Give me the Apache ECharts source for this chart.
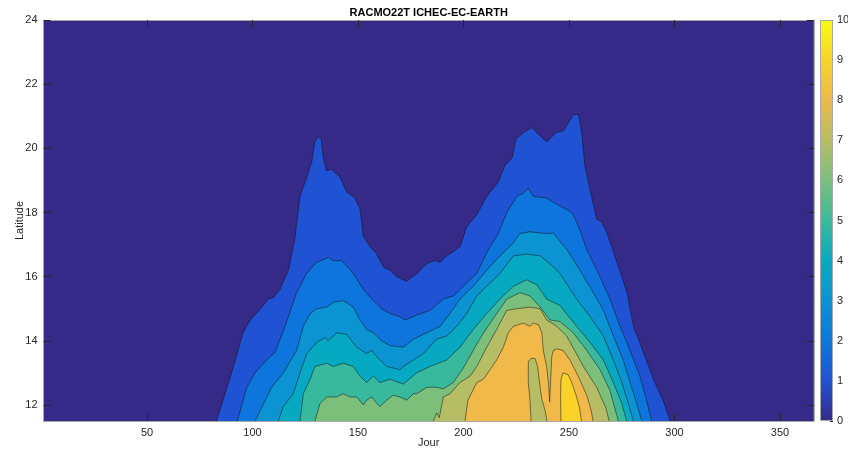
<!DOCTYPE html>
<html>
<head>
<meta charset="utf-8">
<script src="https://cdn.jsdelivr.net/npm/echarts@6/dist/echarts.min.js"></script>
<style>
html, body { margin: 0; padding: 0; background: #ffffff; }
#chart { width: 848px; height: 454px; }
</style>
</head>
<body>
<div id="chart"></div>
<script>
// Filled contours of the index (Jour x Latitude). Each array traces the
// upper edge of the region where the value exceeds the given level,
// as [day, latitude] pairs; the regions are filled down to the lower axis.
const contour1 = [[83,11.5],[91,13.2],[95.5,14.25],[99,14.65],[104.5,15.05],[107.5,15.3],[110,15.35],[113,15.6],[117,16.2],[120,17.15],[122.5,18.5],[125.5,19.05],[128,19.55],[129.5,20.2],[131,20.35],[132.5,20.3],[133.5,19.75],[135,19.3],[137.5,19.35],[139,19.25],[141.5,19.1],[144.5,18.65],[148.5,18.45],[151,18.1],[152.5,17.25],[155.5,16.95],[159,16.7],[162,16.3],[165,16.2],[168.5,16.0],[173,15.85],[178,16.1],[182.5,16.4],[186.5,16.5],[189,16.45],[192,16.65],[194.5,16.75],[198.5,16.95],[201.5,17.55],[206.5,17.95],[211,18.5],[216.5,18.95],[219.5,19.45],[223,19.7],[225,20.3],[228.5,20.5],[232.5,20.65],[234.5,20.5],[239.5,20.2],[244,20.5],[247.5,20.55],[252,21.05],[254.5,21.05],[256,20.5],[257.5,19.45],[260,18.7],[263,17.8],[265.5,17.7],[268,17.35],[273.5,16.3],[277.5,15.5],[280.5,14.45],[283.5,13.95],[290,12.8],[294.5,12.15],[298,11.5]];
const contour2 = [[92.8,11.5],[97.3,12.55],[101.2,13.0],[106.7,13.4],[110.7,13.65],[115.4,14.45],[120.9,15.5],[125.7,16.1],[130.4,16.45],[134.4,16.55],[135.9,16.6],[138.3,16.5],[142.3,16.5],[147.8,16.1],[152.5,15.6],[157.3,15.25],[161.2,15.0],[165.2,14.85],[169.9,14.75],[172.3,14.65],[177.8,14.8],[184.1,14.95],[190.4,15.3],[195.2,15.4],[199.9,15.7],[206.3,16.1],[211,16.75],[216.5,17.35],[220.5,18.0],[225.2,18.5],[228.3,18.6],[230.7,18.75],[233.1,18.5],[239.4,18.45],[245.7,18.2],[248.9,18.1],[252,17.95],[255.2,17.45],[258.4,16.85],[264.7,16.0],[269.4,15.3],[274.2,14.45],[278.9,13.7],[283.6,12.9],[286.5,12.2],[289.2,11.5]];
const contour3 = [[101.2,11.5],[109.1,12.55],[114.6,13.0],[120.9,13.7],[124.1,14.45],[127.3,14.85],[130.4,15.0],[135.2,15.05],[138.3,15.2],[143,15.25],[147.8,15.05],[150.9,14.65],[154.1,14.35],[157.3,14.25],[161.2,14.0],[165.2,13.85],[171.5,13.8],[176.2,14.05],[182.6,14.25],[188.9,14.45],[193.6,14.85],[198.3,15.3],[204.6,15.7],[211,16.2],[217.3,16.65],[223.6,17.05],[226.8,17.35],[231.5,17.4],[237.8,17.35],[242.6,17.35],[245.7,17.1],[248.9,16.85],[255.2,16.2],[261.5,15.5],[266.3,14.95],[271,14.15],[275.7,13.4],[278.9,12.7],[282.1,12.05],[284.5,11.5]];
const contour4 = [[112.2,11.5],[114.6,11.95],[119.3,12.35],[122.5,13.0],[125.7,13.6],[130.4,13.95],[134.4,14.1],[135.9,14.0],[139.9,14.25],[144.6,14.2],[149.4,13.8],[154.1,13.6],[156.5,13.7],[158.9,13.5],[163.6,13.2],[169.9,13.1],[171.5,13.2],[180.9,13.6],[187.3,14.05],[192,14.15],[196.8,14.45],[201.5,14.85],[206.3,15.4],[211,15.7],[217.3,16.1],[223.6,16.65],[230,16.7],[236.3,16.65],[242.6,16.3],[245.7,16.1],[253.6,15.3],[260,14.75],[266.3,14.15],[271,13.4],[275,12.7],[278.1,12.05],[280.5,11.5]];
const contour5 = [[122.5,11.5],[124.1,12.35],[127.3,12.8],[129.6,13.2],[135.2,13.3],[138.3,13.2],[143,13.3],[147.8,13.2],[150.9,12.9],[154.1,12.7],[157.3,12.9],[160.4,12.7],[165.2,12.8],[171.5,12.65],[177.8,13.0],[184.1,13.2],[192,13.4],[198.3,13.8],[204.6,14.35],[211,14.85],[217.3,15.3],[223.6,15.7],[230,15.9],[234.7,15.75],[239.4,15.3],[245.7,15.1],[253.6,14.45],[260,13.95],[266.3,13.4],[271,12.7],[275,12.05],[277.3,11.5]];
const contour6 = [[129.6,11.5],[132,12.05],[135.2,12.25],[139.9,12.25],[143,12.35],[146.2,12.25],[149.4,12.25],[152.5,12.0],[154.1,12.15],[156.5,12.25],[158.9,12.05],[160.4,11.95],[163.6,12.15],[166.7,12.3],[169.9,12.25],[173.1,12.15],[176.2,12.35],[177.8,12.35],[182.6,12.55],[187.3,12.55],[190.4,12.5],[195.2,12.7],[199.9,13.15],[206.3,13.9],[211,14.4],[220.5,15.3],[226.8,15.5],[231.5,15.4],[236.3,15.05],[241,14.65],[245.7,14.6],[252,14.25],[258.4,13.7],[264.7,13.1],[269.4,12.45],[273.4,11.5]];
const contour7 = [[185.7,11.5],[187.3,11.75],[188.5,11.6],[190.4,12.25],[193.6,12.35],[198.3,12.7],[203.1,12.9],[206.3,13.2],[211,13.8],[215.7,14.35],[220.5,14.95],[225.2,15.0],[231.5,15.05],[236.3,15.0],[239.4,14.65],[244.2,14.45],[248.9,14.15],[256.8,13.2],[263.1,12.55],[267.5,11.9],[269,11.5]];
const contour8 = [[200.7,11.5],[202.1,12.15],[206.3,12.7],[209.4,12.8],[212.6,13.1],[215.7,13.4],[218.9,13.8],[221.2,14.25],[223.6,14.45],[228.3,14.55],[231.5,14.45],[233.1,14.55],[235.5,14.5],[237.1,14.25],[237.8,13.7],[239.4,13.2],[240.3,12.65],[240.8,12.1],[241.2,12.65],[241.8,13.5],[242.6,13.7],[244.2,13.75],[247.2,13.7],[250.5,13.4],[254.3,12.9],[258.4,12.3],[260.4,11.85],[261.4,11.5]];
// pocket below level 8 enclosed by the level-8 region
const contour8Pocket = [[232,11.5],[231.5,12.15],[230.7,12.7],[230.7,13.35],[232,13.45],[233.9,13.45],[235.1,13.2],[236.3,12.55],[237.2,12.15],[238.6,11.85],[239.6,11.5]];
const contour9 = [[246.2,11.5],[246,12.3],[246.2,12.8],[247.2,13.0],[248.1,13.05],[249.5,12.95],[251.3,12.7],[253.6,12.25],[255,11.9],[255.9,11.5]];

const xTicks = [50, 100, 150, 200, 250, 300, 350];
const yTicks = [12, 14, 16, 18, 20, 22, 24];
const colorbarTicks = [0, 1, 2, 3, 4, 5, 6, 7, 8, 9, 10];
const colorbarMax = 10;

// parula colormap samples, 0 to 1
const parulaStops = ['#352A87', '#2053D4', '#0E77DB', '#0C93D2', '#07AAC1', '#3DBA9B',
                     '#7CBF7B', '#B8BD63', '#ECB94C', '#F9D428', '#F9FB0E'];
// fill colour of each band (level value mapped through the colormap)
const bandColors = {
  0: '#352A87', 1: '#2053D4', 2: '#0D75DC', 3: '#0C93D2', 4: '#07A9C2',
  5: '#38B99E', 6: '#7CBF7B', 7: '#B7BD64', 8: '#F1B94A', 9: '#F9D32A'
};

const FONT = 'Liberation Sans';
const TEXT = '#262626';
const BOX = '#a8a8a8';

function band(data, color) {
  return {
    type: 'line',
    xAxisIndex: 0,
    yAxisIndex: 0,
    data: data,
    symbol: 'none',
    smooth: false,
    silent: true,
    animation: false,
    lineStyle: { color: '#111111', width: 0.6, opacity: 0.85 },
    areaStyle: { color: color, opacity: 1, origin: 'start' }
  };
}

const chart = echarts.init(document.getElementById('chart'), null, { renderer: 'canvas' });

const option = {
  backgroundColor: '#ffffff',
  animation: false,
  title: {
    text: 'RACMO22T ICHEC-EC-EARTH',
    left: 428.7,
    top: 7,
    padding: 0,
    textAlign: 'center',
    textStyle: { fontFamily: FONT, fontSize: 11, fontWeight: 'bold', color: '#000000' }
  },
  grid: [
    { left: 43.6, top: 20, width: 770.2, height: 401, show: true,
      backgroundColor: bandColors[0], borderWidth: 0, outerBoundsMode: 'none' },
    { left: 820, top: 20, width: 13, height: 401, outerBoundsMode: 'none' }
  ],
  xAxis: [
    {
      type: 'value', gridIndex: 0, min: 1, max: 366, position: 'bottom',
      name: 'Jour', nameLocation: 'middle', nameGap: 16, nameMoveOverlap: false,
      nameTextStyle: { fontFamily: FONT, fontSize: 11, color: TEXT },
      axisLine: { show: true, onZero: false, lineStyle: { color: BOX, width: 1 } },
      axisTick: { show: true, inside: true, length: 7, customValues: xTicks,
                  lineStyle: { color: TEXT, width: 1 } },
      axisLabel: { show: true, customValues: xTicks, margin: 6,
                   fontFamily: FONT, fontSize: 11, color: TEXT },
      splitLine: { show: false }
    },
    {
      type: 'value', gridIndex: 0, min: 1, max: 366, position: 'top',
      axisLine: { show: true, onZero: false, lineStyle: { color: BOX, width: 1 } },
      axisTick: { show: true, inside: true, length: 7, customValues: xTicks,
                  lineStyle: { color: TEXT, width: 1 } },
      axisLabel: { show: false },
      splitLine: { show: false }
    },
    {
      type: 'category', gridIndex: 1, data: ['c'], show: false
    }
  ],
  yAxis: [
    {
      type: 'value', gridIndex: 0, min: 11.5, max: 24, position: 'left',
      name: 'Latitude', nameLocation: 'middle', nameGap: 18, nameRotate: 90,
      nameMoveOverlap: false,
      nameTextStyle: { fontFamily: FONT, fontSize: 11, color: TEXT },
      axisLine: { show: true, onZero: false, lineStyle: { color: BOX, width: 1 } },
      axisTick: { show: true, inside: true, length: 7, customValues: yTicks,
                  lineStyle: { color: TEXT, width: 1 } },
      axisLabel: { show: true, customValues: yTicks, margin: 6,
                   fontFamily: FONT, fontSize: 11, color: TEXT },
      splitLine: { show: false }
    },
    {
      type: 'value', gridIndex: 0, min: 11.5, max: 24, position: 'right',
      axisLine: { show: true, onZero: false, lineStyle: { color: BOX, width: 1 } },
      axisTick: { show: true, inside: true, length: 7, customValues: yTicks,
                  lineStyle: { color: TEXT, width: 1 } },
      axisLabel: { show: false },
      splitLine: { show: false }
    },
    {
      type: 'value', gridIndex: 1, min: 0, max: colorbarMax, interval: 1, position: 'right',
      axisLine: { show: false },
      axisTick: { show: true, inside: true, length: 3, customValues: colorbarTicks,
                  lineStyle: { color: TEXT, width: 1 } },
      axisLabel: { show: true, customValues: colorbarTicks, margin: 4,
                   fontFamily: FONT, fontSize: 11, color: TEXT },
      splitLine: { show: false }
    }
  ],
  series: [
    band(contour1, bandColors[1]),
    band(contour2, bandColors[2]),
    band(contour3, bandColors[3]),
    band(contour4, bandColors[4]),
    band(contour5, bandColors[5]),
    band(contour6, bandColors[6]),
    band(contour7, bandColors[7]),
    band(contour8, bandColors[8]),
    band(contour8Pocket, bandColors[7]),
    band(contour9, bandColors[9]),
    {
      type: 'bar',
      xAxisIndex: 2,
      yAxisIndex: 2,
      data: [colorbarMax],
      barWidth: '100%',
      silent: true,
      animation: false,
      itemStyle: {
        color: new echarts.graphic.LinearGradient(0, 1, 0, 0,
          parulaStops.map((c, i) => ({ offset: i / (parulaStops.length - 1), color: c }))),
        borderColor: BOX,
        borderWidth: 1
      }
    }
  ]
};

chart.setOption(option);
</script>
</body>
</html>
